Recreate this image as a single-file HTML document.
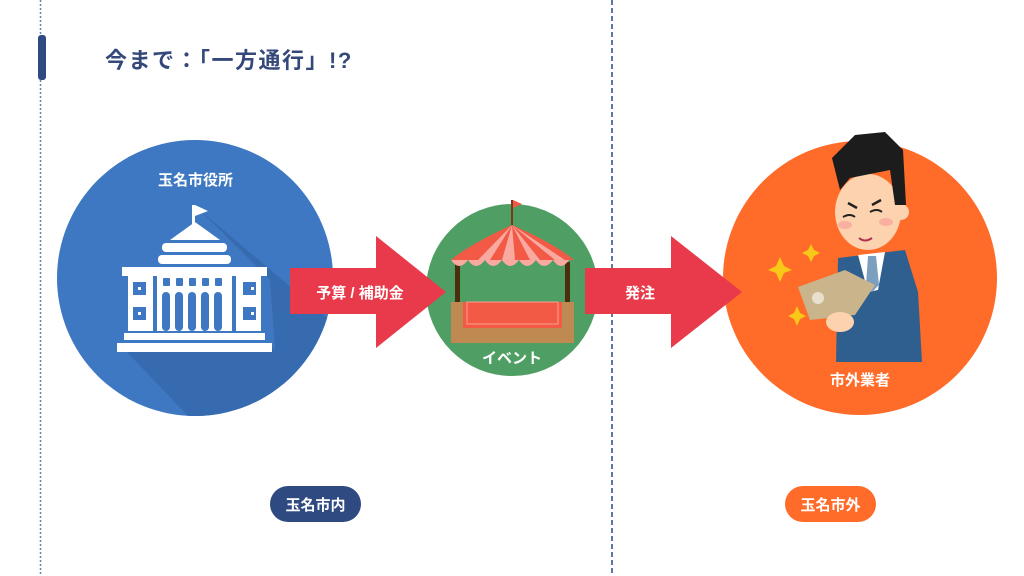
<!DOCTYPE html>
<html><head><meta charset="utf-8"><style>
html,body{margin:0;padding:0;background:#fff;}
body{width:1024px;height:576px;position:relative;overflow:hidden;font-family:"Liberation Sans","Noto Sans CJK JP",sans-serif;}
.t{position:absolute;font-weight:bold;white-space:nowrap;}
</style></head><body>
<svg width="1024" height="576" style="position:absolute;left:0;top:0">
<line x1="40.5" y1="0" x2="40.5" y2="576" stroke="#6b7fb0" stroke-width="1.5" stroke-dasharray="2,2"/>
<rect x="38" y="35" width="8" height="45" rx="3" fill="#2f4a80"/>
<line x1="612" y1="0" x2="612" y2="576" stroke="#2f4a80" stroke-width="1.5" stroke-dasharray="5,3"/>
<defs><clipPath id="bc"><circle cx="195" cy="278" r="138"/></clipPath></defs>
<circle cx="195" cy="278" r="138" fill="#3e78c2"/>
<polygon clip-path="url(#bc)" points="200,210 270,280 275,350 275,350 270,345 120,345 240,470 400,470 400,380" fill="#376bb0"/>
<g fill="#fff">
<rect x="192" y="205" width="3" height="25"/>
<polygon points="195,205 208,211 195,216"/>
<polygon points="170,240 195,222 220,240"/>
<rect x="162" y="243" width="65" height="9" rx="4"/>
<rect x="158" y="255" width="73" height="9" rx="4"/>
<rect x="122" y="267" width="145" height="9"/>
<rect x="128" y="276" width="133" height="55"/>
<rect x="124" y="333" width="141" height="7"/>
<rect x="117" y="343" width="155" height="9"/>
</g>
<g fill="#3e78c2">
<rect x="133" y="282" width="13" height="13"/><rect x="133" y="307" width="13" height="13"/>
<rect x="243" y="282" width="13" height="13"/><rect x="243" y="307" width="13" height="13"/>
<rect x="153" y="276" width="4" height="55"/><rect x="232" y="276" width="4" height="55"/>
<rect x="163" y="278" width="7" height="8" rx="1"/><rect x="176" y="278" width="7" height="8" rx="1"/><rect x="189" y="278" width="7" height="8" rx="1"/><rect x="202" y="278" width="7" height="8" rx="1"/><rect x="215" y="278" width="7" height="8" rx="1"/>
<rect x="162" y="292" width="8" height="39" rx="4"/><rect x="175" y="292" width="8" height="39" rx="4"/><rect x="188" y="292" width="8" height="39" rx="4"/><rect x="201" y="292" width="8" height="39" rx="4"/><rect x="214" y="292" width="8" height="39" rx="4"/>
</g>
<g fill="#fff"><rect x="138" y="287" width="3" height="3"/><rect x="251" y="287" width="3" height="3"/><rect x="138" y="312" width="3" height="3"/><rect x="251" y="312" width="3" height="3"/><rect x="134" y="300" width="11" height="1"/></g>
<!-- green circle -->
<circle cx="512" cy="290" r="86" fill="#4f9e63"/>
<rect x="455" y="262" width="5" height="45" fill="#4a2e0e"/>
<rect x="565" y="262" width="5" height="45" fill="#4a2e0e"/>
<rect x="451" y="302" width="123" height="41" fill="#be8a52"/>
<rect x="463" y="302" width="99" height="26" fill="#f25a46"/>
<rect x="467" y="302" width="91" height="22" fill="none" stroke="#f9a08f" stroke-width="1"/>
<rect x="511" y="200" width="2" height="27" fill="#7a3a1a"/>
<polygon points="513,200 522,204 513,208" fill="#f25a46"/>
<path d="M512,225 C490,235 465,248 451,260 L574,260 C560,248 535,235 512,225Z" fill="#f25a46"/>
<path d="M512,225 L478,260 L490,260Z M512,225 L502,260 L515,260Z M512,225 L530,260 L540,260Z M512,225 L555,260 L565,260Z" fill="#f9a9a0"/>
<path d="M451,260 q8,12 17,0 q8,12 17,0 q8,12 17,0 q8,12 17,0 q8,12 17,0 q8,12 17,0 q8,12 16,0Z" fill="#f9a9a0"/>
<!-- orange circle -->
<circle cx="860" cy="278" r="137" fill="#ff6b28"/>
<!-- arrows -->
<polygon points="290,268 376,268 376,236 446,292 376,348 376,314 290,314" fill="#e83a4a"/>
<polygon points="585,268 671,268 671,236 742,292 671,348 671,314 585,314" fill="#e83a4a"/>
<!-- man -->
<path d="M838,258 L905,250 L918,292 L922,362 L836,362Z" fill="#2e5f8e"/>
<polygon points="858,255 885,252 878,290 868,292" fill="#fff"/>
<polygon points="868,256 876,256 879,285 872,292 866,285" fill="#7a9fbf"/>
<ellipse cx="868" cy="212" rx="33" ry="38" fill="#fdd2ae"/>
<circle cx="901" cy="212" r="8" fill="#fdd2ae"/>
<path d="M832,158 L855,135 L885,132 L903,150 L906,205 L895,205 L890,170 L850,178 L840,190Z" fill="#1c1c1c"/>
<path d="M843,217 q7,-4 12,0 M870,212 q7,-4 12,0" stroke="#222" stroke-width="2" fill="none"/>
<path d="M848,203 l9,5 M872,205 l9,-5" stroke="#222" stroke-width="2.5"/>
<path d="M859,238 q6,5 13,0" stroke="#b03050" stroke-width="2" fill="none"/>
<ellipse cx="845" cy="225" rx="7" ry="4" fill="#f9b0a0"/><ellipse cx="886" cy="222" rx="7" ry="4" fill="#f9b0a0"/>
<polygon points="798,287 845,270 875,285 855,315 810,320" fill="#c9b48c"/>
<circle cx="818" cy="298" r="6" fill="#e8e0cc"/>
<ellipse cx="840" cy="322" rx="14" ry="10" fill="#fdd2ae"/>
<g fill="#f7c818">
<polygon points="780,257 784,266 792,270 784,273 780,282 776,273 768,270 776,266"/>
<polygon points="811,244 814,250 820,253 814,256 811,262 808,256 802,253 808,250"/>
<polygon points="797,306 800,313 806,316 800,319 797,326 794,319 788,316 794,313"/>
</g>
<rect x="270" y="486" width="91" height="36" rx="18" fill="#2f4a80"/>
<rect x="785" y="486" width="91" height="36" rx="18" fill="#ff6b28"/>
</svg>
<div class="t" style="left:105px;top:43px;font-size:22px;letter-spacing:1.5px;color:#34497a;">今まで：「一方通行」!?</div>
<div class="t" style="left:138px;top:169px;font-size:15px;color:#fff;width:115px;text-align:center;">玉名市役所</div>
<div class="t" style="left:290px;top:282px;font-size:15px;color:#fff;width:140px;text-align:center;">予算 / 補助金</div>
<div class="t" style="left:462px;top:347px;font-size:15px;color:#fff;width:100px;text-align:center;">イベント</div>
<div class="t" style="left:600px;top:282px;font-size:15px;color:#fff;width:80px;text-align:center;">発注</div>
<div class="t" style="left:800px;top:369px;font-size:15px;color:#fff;width:120px;text-align:center;">市外業者</div>
<div class="t" style="left:270px;top:494px;font-size:15px;color:#fff;width:91px;text-align:center;">玉名市内</div>
<div class="t" style="left:785px;top:494px;font-size:15px;color:#fff;width:91px;text-align:center;">玉名市外</div>
</body></html>
